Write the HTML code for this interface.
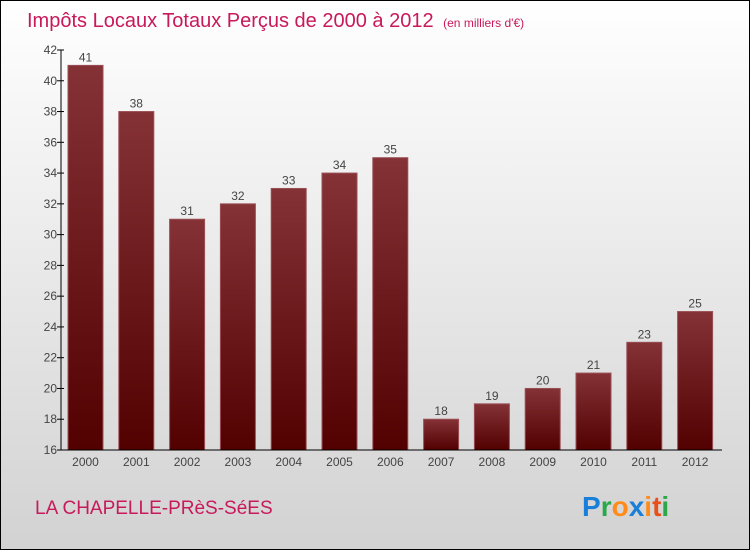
<!DOCTYPE html>
<html><head><meta charset="utf-8"><style>
body{margin:0}
svg{display:block;font-family:"Liberation Sans",sans-serif}
</style></head><body>
<svg id="c" width="750" height="550" xmlns="http://www.w3.org/2000/svg">
<defs>
<linearGradient id="bg" x1="0" y1="0" x2="0" y2="1"><stop offset="0" stop-color="#ffffff"/><stop offset="1" stop-color="#d2d2d2"/></linearGradient>
<linearGradient id="bar" x1="0" y1="0" x2="0" y2="1"><stop offset="0" stop-color="#853237"/><stop offset="1" stop-color="#520000"/></linearGradient>
</defs>
<rect x="0.5" y="0.5" width="749" height="549" fill="url(#bg)" stroke="#000"/>
<text x="27" y="27" font-size="20" fill="#c8195a">Impôts Locaux Totaux Perçus de 2000 à 2012 <tspan font-size="12" dx="4">(en milliers d'€)</tspan></text>
<g id="yax"></g>
<g id="bars"></g>
<g id="xax"></g>
<text x="35" y="514" font-size="19" fill="#c8195a">LA CHAPELLE-PRèS-SéES</text>
<text x="582" y="516" font-size="28" font-weight="bold"><tspan fill="#1a7fd8">P</tspan><tspan fill="#2aa84a">r</tspan><tspan fill="#ff8c1a">o</tspan><tspan fill="#1a7fd8">x</tspan><tspan fill="#ff8c1a">i</tspan><tspan fill="#e8501a">t</tspan><tspan fill="#2aa84a">i</tspan></text>
</svg>
<script>
const categories=["2000","2001","2002","2003","2004","2005","2006","2007","2008","2009","2010","2011","2012"];
const values=[41,38,31,32,33,34,35,18,19,20,21,23,25];
const yTicks=[16,18,20,22,24,26,28,30,32,34,36,38,40,42];
const NS="http://www.w3.org/2000/svg";
const yMin=16,yMax=42,yTop=50,yBot=450,x0=61,x1=722;
const y=v=>yBot-(v-yMin)/(yMax-yMin)*(yBot-yTop);
const step=50.8,first=85.5,bw=35;
const xc=i=>first+i*step;
function mk(t,a,p){const e=document.createElementNS(NS,t);for(const k in a)e.setAttribute(k,a[k]);p.appendChild(e);return e;}
const yax=document.getElementById('yax'),bars=document.getElementById('bars'),xax=document.getElementById('xax');
mk('line',{x1:x0,y1:yTop,x2:x0,y2:yBot,stroke:'#000'},yax);
yTicks.forEach(v=>{
 const l=mk('line',{x1:x0-4,y1:y(v),x2:x0+3,y2:y(v),stroke:'#000'},yax);
 
 
 const t=mk('text',{x:x0-4,y:y(v)+4,'text-anchor':'end','font-size':12,fill:'#444'},yax);
 
 
 t.textContent=v;
});
values.forEach((v,i)=>{
 const r=mk('rect',{x:xc(i)-bw/2,y:y(v),width:bw,height:yBot-y(v),fill:'url(#bar)',stroke:'#9a5055','stroke-width':1},bars);
 
 
 const t=mk('text',{x:xc(i),y:y(v)-4,'text-anchor':'middle','font-size':12,fill:'#444'},bars);
 
 
 t.textContent=v;
});
mk('line',{x1:x0,y1:yBot,x2:x1,y2:yBot,stroke:'#000'},xax);
categories.forEach((c,i)=>{
 const t=mk('text',{x:xc(i),y:466,'text-anchor':'middle','font-size':12,fill:'#444'},xax);
 
 
 t.textContent=c;
});
</script>
</body></html>
